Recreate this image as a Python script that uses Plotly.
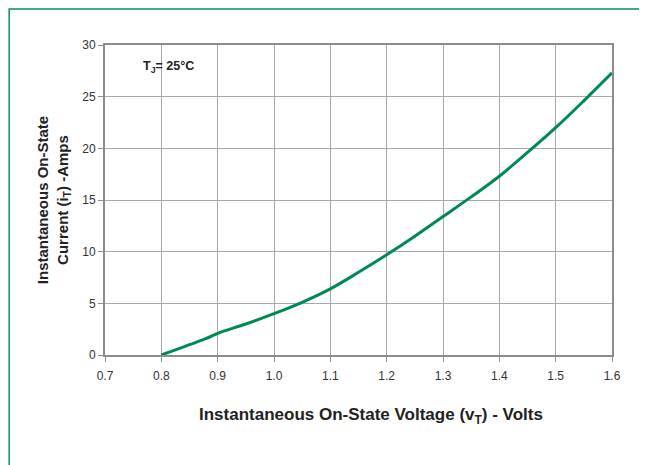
import plotly.graph_objects as go

voltage = [0.80, 0.82, 0.85, 0.88, 0.90, 0.95, 1.00, 1.05, 1.10, 1.15, 1.20, 1.25, 1.30, 1.35, 1.40, 1.45, 1.50, 1.55, 1.60]
current = [0.0, 0.4, 1.0, 1.6, 2.1, 3.0, 4.0, 5.1, 6.4, 8.0, 9.7, 11.5, 13.4, 15.3, 17.3, 19.6, 22.0, 24.6, 27.3]

x_ticks = [0.7, 0.8, 0.9, 1.0, 1.1, 1.2, 1.3, 1.4, 1.5, 1.6]
x_tick_labels = ["0.7", "0.8", "0.9", "1.0", "1.1", "1.2", "1.3", "1.4", "1.5", "1.6"]
y_ticks = [0, 5, 10, 15, 20, 25, 30]

font_family = "Liberation Sans, Arial, sans-serif"

fig = go.Figure()
fig.add_trace(go.Scatter(x=voltage, y=current, mode="lines",
                         line=dict(color="#008a52", width=3, shape="spline"),
                         showlegend=False, hoverinfo="skip"))

fig.update_layout(
    width=647, height=465,
    margin=dict(l=97, r=43, t=37, b=118),
    paper_bgcolor="white", plot_bgcolor="white",
    font=dict(family=font_family, color="#333333", size=12),
    xaxis=dict(range=[0.7, 1.6], tickvals=x_ticks, ticktext=x_tick_labels,
               showgrid=True, gridcolor="#a8a8a8", gridwidth=1,
               showline=True, linecolor="#8c8c8c", linewidth=2, mirror=True,
               ticks="outside", ticklen=5, tickcolor="#8c8c8c",
               ticklabelstandoff=4,
               zeroline=False, tickfont=dict(size=12, color="#333333")),
    yaxis=dict(range=[0, 30], tickvals=y_ticks,
               showgrid=True, gridcolor="#a8a8a8", gridwidth=1,
               showline=True, linecolor="#8c8c8c", linewidth=2, mirror=True,
               ticks="outside", ticklen=5, tickcolor="#8c8c8c",
               zeroline=False, tickfont=dict(size=12, color="#333333"),
               title=dict(text="<b>Instantaneous On-State<br>Current (i<sub>T</sub>) -Amps</b>",
                          font=dict(size=15, color="#222222"), standoff=10)),
    annotations=[
        dict(x=0.812, y=27.9, xref="x", yref="y",
             text="<b>T<sub>J</sub>= 25°C</b>", showarrow=False,
             font=dict(size=12.5, color="#222222")),
        dict(x=0.525, y=-0.197, xref="paper", yref="paper",
             xanchor="center", yanchor="middle",
             text="<b>Instantaneous On-State Voltage (v<sub>T</sub>) - Volts</b>",
             showarrow=False, font=dict(size=17, color="#222222")),
    ],
    shapes=[dict(type="rect", xref="paper", yref="paper",
                 x0=-0.189, x1=1.2, y0=-0.5, y1=1.116,
                 line=dict(color="#00915a", width=1.5), layer="below")],
)

fig.write_html("out.html")
